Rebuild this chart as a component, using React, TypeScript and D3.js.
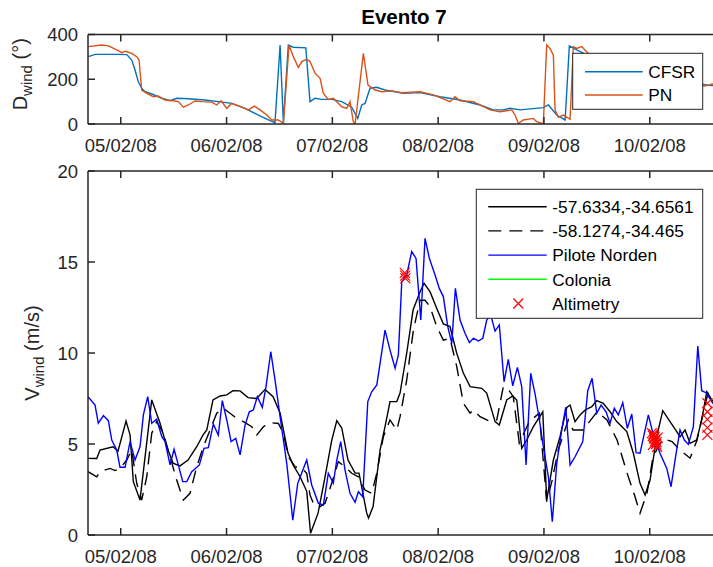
import React from "react";
import * as d3 from "d3";

// ---- data (day offsets from 05/02/08 00:00 UTC) ----
const cfsrDir: [number, number][] = [
  [-0.306, 301], [-0.243, 311], [-0.023, 311], [0.057, 310], [0.104, 286], [0.135, 241], [0.166, 189],
  [0.198, 160], [0.23, 144], [0.293, 134], [0.388, 115], [0.466, 104], [0.529, 115], [0.639, 113],
  [0.797, 107], [0.922, 100], [1.049, 92], [1.175, 70], [1.301, 40], [1.411, 15], [1.458, 6],
  [1.506, 353], [1.537, 6], [1.584, 353], [1.631, 343], [1.749, 340], [1.789, 100], [1.836, 115],
  [1.9, 110], [1.994, 110], [2.089, 100], [2.183, 75], [2.24, 25], [2.278, 85], [2.309, 92],
  [2.356, 160], [2.42, 164], [2.498, 152], [2.593, 144], [2.671, 137], [2.829, 140], [3.018, 122],
  [3.207, 107], [3.396, 85], [3.522, 63], [3.616, 63], [3.679, 70], [3.775, 63], [3.994, 73],
  [4.042, 85], [4.121, 40], [4.2, 18], [4.24, 349], [4.31, 331], [4.37, 317], [4.53, 250],
  [4.814, 200], [5.098, 185], [5.381, 180], [5.507, 177], [5.554, 173], [5.627, 172],
];
const pnDir: [number, number][] = [
  [-0.306, 346], [-0.18, 353], [-0.117, 349], [-0.023, 328], [0.009, 319], [0.041, 325], [0.104, 316],
  [0.151, 301], [0.173, 286], [0.198, 152], [0.246, 137], [0.308, 122], [0.355, 125], [0.419, 107],
  [0.497, 104], [0.544, 100], [0.592, 75], [0.639, 85], [0.702, 103], [0.766, 100], [0.86, 98],
  [0.907, 85], [0.948, 104], [1.002, 70], [1.049, 92], [1.144, 75], [1.206, 63], [1.263, 80],
  [1.317, 63], [1.38, 40], [1.427, 18], [1.49, 18], [1.537, 3], [1.591, 353], [1.631, 301],
  [1.679, 253], [1.711, 279], [1.758, 289], [1.789, 279], [1.836, 227], [1.884, 204], [1.915, 137],
  [1.962, 110], [2.009, 115], [2.089, 77], [2.136, 70], [2.167, 100], [2.198, 10], [2.215, 0],
  [2.293, 316], [2.337, 174], [2.404, 152], [2.467, 144], [2.561, 148], [2.656, 140], [2.829, 144],
  [2.955, 130], [3.112, 100], [3.159, 122], [3.207, 104], [3.333, 100], [3.491, 63], [3.585, 55],
  [3.696, 63], [3.727, 40], [3.758, 3], [3.805, 18], [3.9, 25], [3.932, 10], [3.994, 0],
  [4.026, 353], [4.057, 338], [4.089, 308], [4.105, 63], [4.136, 30], [4.183, 40], [4.247, 21],
  [4.278, 346], [4.31, 338], [4.357, 346], [4.53, 260], [4.814, 190], [5.098, 175], [5.381, 170],
  [5.507, 170], [5.554, 173], [5.586, 179], [5.627, 175],
];
const speedA: [number, number][] = [
  [-0.309, 4.21], [-0.227, 4.2], [-0.196, 4.67], [-0.073, 4.85], [-0.026, 4.6], [0.05, 6.26], [0.088, 5.5],
  [0.119, 2.93], [0.182, 1.92], [0.293, 7.42], [0.371, 6.15], [0.435, 4.85], [0.494, 3.95], [0.56, 3.8],
  [0.636, 4.12], [0.718, 4.85], [0.778, 5.5], [0.813, 5.77], [0.872, 7.42], [0.939, 7.64], [1.002, 7.7],
  [1.061, 7.93], [1.128, 7.92], [1.203, 7.55], [1.285, 7.5], [1.364, 8.0], [1.44, 7.6], [1.506, 6.7],
  [1.581, 4.5], [1.629, 3.85], [1.695, 3.2], [1.758, 2.4], [1.794, 0.1], [1.865, 1.2], [1.931, 3.2],
  [1.994, 5.2], [2.042, 6.28], [2.089, 5.88], [2.148, 4.12], [2.215, 3.4], [2.252, 3.4], [2.325, 1.2],
  [2.342, 0.93], [2.385, 1.56], [2.451, 4.67], [2.498, 5.95], [2.545, 7.33], [2.609, 7.33], [2.64, 7.8],
  [2.703, 10.0], [2.763, 12.36], [2.829, 13.37], [2.867, 13.83], [2.923, 13.37], [2.987, 12.45],
  [3.049, 11.6], [3.112, 11.45], [3.176, 9.98], [3.238, 8.9], [3.302, 8.15], [3.412, 8.06], [3.459, 7.8],
  [3.538, 6.23], [3.578, 6.04], [3.648, 7.42], [3.705, 7.64], [3.743, 7.42], [3.79, 4.76], [3.837, 5.22],
  [3.9, 5.95], [3.989, 6.77], [4.026, 1.92], [4.089, 4.12], [4.152, 5.4], [4.216, 7.01], [4.247, 7.14],
  [4.294, 6.23], [4.341, 6.6], [4.389, 6.87], [4.452, 7.05], [4.499, 7.38], [4.561, 7.24], [4.625, 6.77],
  [4.688, 6.23], [4.783, 5.68], [4.845, 4.49], [4.908, 2.84], [4.956, 2.2], [5.003, 3.02], [5.066, 5.4],
  [5.123, 6.83], [5.192, 6.23], [5.255, 5.68], [5.286, 5.4], [5.334, 5.77], [5.381, 5.04], [5.444, 5.22],
  [5.491, 6.32], [5.539, 7.87], [5.586, 7.42], [5.664, 7.0],
];
const speedB: [number, number][] = [
  [-0.309, 3.48], [-0.227, 3.2], [-0.196, 3.48], [-0.101, 3.66], [-0.054, 3.54], [-0.007, 3.66], [0.057, 4.12],
  [0.104, 4.67], [0.151, 2.84], [0.198, 1.92], [0.246, 3.2], [0.293, 5.59], [0.34, 6.23], [0.403, 5.59],
  [0.466, 4.3], [0.529, 3.02], [0.592, 1.92], [0.655, 2.29], [0.718, 3.75], [0.781, 4.85], [0.844, 5.77],
  [0.907, 6.69], [0.97, 6.96], [1.033, 6.69], [1.096, 6.41], [1.159, 6.23], [1.238, 5.95], [1.285, 5.49],
  [1.348, 5.95], [1.411, 6.17], [1.49, 6.13], [1.537, 5.59], [1.584, 4.3], [1.647, 3.75], [1.711, 3.66],
  [1.758, 3.39], [1.789, 2.2], [1.82, 1.74], [1.884, 1.56], [1.931, 1.74], [1.994, 2.84], [2.057, 4.03],
  [2.12, 3.75], [2.183, 3.39], [2.246, 3.2], [2.309, 2.47], [2.372, 2.29], [2.42, 3.39], [2.482, 5.4],
  [2.545, 6.32], [2.609, 5.77], [2.64, 6.5], [2.703, 8.52], [2.766, 11.26], [2.829, 12.9], [2.876, 12.9],
  [2.923, 12.54], [2.987, 11.45], [3.049, 10.71], [3.112, 10.8], [3.176, 9.25], [3.238, 7.24], [3.302, 6.69],
  [3.333, 6.87], [3.396, 6.5], [3.491, 6.23], [3.554, 6.32], [3.616, 8.15], [3.663, 8.0], [3.71, 7.6],
  [3.767, 5.05], [3.861, 6.23], [3.956, 6.69], [4.026, 1.83], [4.077, 3.0], [4.135, 4.67], [4.23, 6.32],
  [4.275, 5.77], [4.37, 5.77], [4.502, 6.77], [4.596, 6.32], [4.691, 5.22], [4.786, 3.4], [4.861, 2.1],
  [4.908, 1.2], [4.974, 2.3], [5.031, 4.3], [5.126, 5.3], [5.211, 5.13], [5.286, 4.67], [5.381, 4.22],
  [5.447, 5.22], [5.504, 6.69], [5.551, 7.8], [5.598, 7.4], [5.664, 7.1],
];
const piloteNorden: [number, number][] = [
  [-0.309, 7.6], [-0.243, 7.14], [-0.212, 6.14], [-0.164, 6.56], [-0.117, 6.28], [-0.085, 5.22],
  [-0.038, 4.67], [-0.007, 3.72], [0.041, 3.72], [0.088, 5.13], [0.135, 4.12], [0.182, 4.85], [0.214, 6.6],
  [0.255, 7.6], [0.293, 6.14], [0.34, 6.36], [0.388, 5.4], [0.419, 5.13], [0.466, 3.85], [0.504, 4.71],
  [0.544, 3.85], [0.586, 2.93], [0.624, 2.93], [0.671, 3.48], [0.743, 3.85], [0.787, 4.76], [0.828, 4.8],
  [0.875, 6.1], [0.922, 5.49], [0.96, 7.38], [1.002, 6.32], [1.043, 5.13], [1.087, 5.31], [1.128, 4.4],
  [1.175, 6.04], [1.215, 6.77], [1.253, 6.87], [1.291, 7.6], [1.338, 7.01], [1.373, 8.15], [1.418, 10.07],
  [1.458, 8.52], [1.506, 6.5], [1.569, 3.94], [1.626, 0.82], [1.673, 2.84], [1.711, 3.42], [1.758, 4.12],
  [1.805, 2.75], [1.868, 1.74], [1.915, 1.65], [1.962, 3.39], [2.009, 2.84], [2.042, 4.12], [2.079, 5.13],
  [2.12, 3.57], [2.167, 2.29], [2.215, 1.8], [2.246, 2.38], [2.287, 2.1], [2.335, 7.33], [2.372, 7.87],
  [2.42, 8.24], [2.451, 9.43], [2.498, 11.26], [2.545, 10.16], [2.593, 9.16], [2.624, 9.89], [2.656, 13.92],
  [2.703, 14.29], [2.75, 15.57], [2.791, 15.2], [2.836, 11.81], [2.876, 16.3], [2.917, 15.2], [2.971, 14.29],
  [3.011, 13.55], [3.049, 13.1], [3.091, 11.45], [3.129, 10.53], [3.163, 13.55], [3.207, 11.81],
  [3.254, 11.08], [3.295, 10.57], [3.333, 10.81], [3.38, 10.66], [3.422, 10.81], [3.459, 11.81],
  [3.497, 12.09], [3.538, 11.2], [3.578, 11.54], [3.623, 8.42], [3.663, 9.65], [3.705, 8.19], [3.749, 9.21],
  [3.79, 8.15], [3.831, 3.85], [3.875, 8.88], [3.916, 7.75], [3.957, 6.32], [3.994, 4.85], [4.042, 3.2],
  [4.079, 0.73], [4.121, 3.94], [4.168, 5.77], [4.206, 7.01], [4.247, 3.85], [4.294, 4.3], [4.367, 5.13],
  [4.414, 7.93], [4.455, 8.61], [4.499, 6.69], [4.54, 7.14], [4.587, 6.77], [4.625, 6.14], [4.665, 6.96],
  [4.703, 6.6], [4.745, 7.27], [4.788, 5.86], [4.83, 6.65], [4.871, 4.52], [4.908, 4.49], [4.987, 6.6],
  [5.034, 5.49], [5.097, 4.49], [5.161, 3.66], [5.201, 2.65], [5.249, 4.49], [5.286, 5.77], [5.327, 5.22],
  [5.365, 4.98], [5.412, 5.95], [5.454, 10.38], [5.491, 7.93], [5.532, 7.82], [5.586, 7.33], [5.627, 7.0],
];
const colonia: [number, number][] = [];
const altimetry: [number, number][] = [
  [2.685, 14.4], [2.69, 14.1], [2.688, 14.25],
  [5.02, 5.6], [5.03, 5.45], [5.04, 5.3], [5.05, 5.15], [5.06, 5.0], [5.07, 4.85], [5.035, 5.55],
  [5.045, 5.4], [5.055, 5.25], [5.065, 5.1], [5.075, 5.35], [5.03, 4.95],
  [5.545, 7.24], [5.545, 6.77], [5.545, 6.35], [5.545, 5.9], [5.545, 5.5],
];
const dirTicks = [0, 200, 400];
const speedTicks = [0, 5, 10, 15, 20];
const speedLegend = ["-57.6334,-34.6561", "-58.1274,-34.465", "Pilote Norden", "Colonia", "Altimetry"];
const dirLegend = ["CFSR", "PN"];

const BASE = Date.UTC(2008, 1, 5);
const toDate = (d: number) => new Date(BASE + d * 864e5);

const W = 713, H = 567;
const L = 88, R = 720;
const TOP1 = 34.5, BOT1 = 124;
const TOP2 = 171, BOT2 = 535;
const AX = "#262626";
const FONT = "'Liberation Sans', Arial, Helvetica, sans-serif";
const DASH = "13,8";

export default function App() {
  const x = d3.scaleUtc().domain([toDate(-0.3095), toDate(5.664)]).range([L, R]);
  const y1 = d3.scaleLinear().domain([0, 400]).range([BOT1, TOP1]);
  const y2 = d3.scaleLinear().domain([0, 20]).range([BOT2, TOP2]);
  const xTicks = x.ticks(d3.utcDay.every(1)!).filter((t) => +t > +x.domain()[0]);
  const fmt = d3.utcFormat("%d/%m/%y");
  const line1 = d3.line<[number, number]>().x((d) => x(toDate(d[0]))).y((d) => y1(d[1]));
  const line2 = d3.line<[number, number]>().x((d) => x(toDate(d[0]))).y((d) => y2(d[1]));
  const cross = "M-5,-5L5,5M-5,5L5,-5";

  const axesBox = (top: number, bot: number, yScale: any, yT: number[], labelY: number) => (
    <g>
      <line x1={L} x2={R} y1={top} y2={top} stroke={AX} strokeWidth={1.5} />
      <line x1={L} x2={R} y1={bot} y2={bot} stroke={AX} strokeWidth={1.5} />
      <line x1={L} x2={L} y1={top} y2={bot} stroke={AX} strokeWidth={1.5} />
      {xTicks.map((t, i) => (
        <g key={i}>
          <line x1={x(t)} x2={x(t)} y1={bot} y2={bot - 7} stroke={AX} strokeWidth={1.5} />
          <line x1={x(t)} x2={x(t)} y1={top} y2={top + 7} stroke={AX} strokeWidth={1.5} />
          <text x={x(t)} y={labelY} textAnchor="middle" fontSize={18.5} fill={AX} fontFamily={FONT}>
            {fmt(t)}
          </text>
        </g>
      ))}
      {yT.map((v, i) => (
        <g key={i}>
          <line x1={L} x2={L + 7} y1={yScale(v)} y2={yScale(v)} stroke={AX} strokeWidth={1.5} />
          <text x={78} y={yScale(v)} dy="0.36em" textAnchor="end" fontSize={18.5} fill={AX} fontFamily={FONT}>
            {v}
          </text>
        </g>
      ))}
    </g>
  );

  return (
    <svg width={W} height={H} style={{ position: "absolute", left: 0, top: 0, background: "#fff" }}>
      <defs>
        <clipPath id="c1"><rect x={L} y={TOP1} width={R - L} height={BOT1 - TOP1} /></clipPath>
        <clipPath id="c2"><rect x={L} y={TOP2} width={R - L} height={BOT2 - TOP2} /></clipPath>
      </defs>
      <rect width={W} height={H} fill="#fff" />
      <text x={(L + R) / 2} y={24} textAnchor="middle" fontSize={20.5} fontWeight="bold" fill="#000" fontFamily={FONT}>
        Evento 7
      </text>

      {/* top panel */}
      <g clipPath="url(#c1)">
        <path d={line1(cfsrDir)!} fill="none" stroke="#0072BD" strokeWidth={1.4} />
        <path d={line1(pnDir)!} fill="none" stroke="#D95319" strokeWidth={1.4} />
      </g>
      {axesBox(TOP1, BOT1, y1, dirTicks, 151.5)}
      <text transform={`translate(27,${(TOP1 + BOT1) / 2 - 5}) rotate(-90)`} textAnchor="middle" fontSize={20} fill={AX} fontFamily={FONT}>
        D<tspan fontSize={15} dy={5}>wind</tspan><tspan dy={-5}> (°)</tspan>
      </text>
      <g>
        <rect x={572.7} y={53.3} width={130} height={56} fill="#fff" stroke={AX} strokeWidth={1} />
        {dirLegend.map((n, i) => (
          <g key={n}>
            <line x1={585} x2={642.7} y1={71.7 + i * 23.3} y2={71.7 + i * 23.3} stroke={i === 0 ? "#0072BD" : "#D95319"} strokeWidth={1.4} />
            <text x={648.3} y={71.7 + i * 23.3} dy="0.36em" fontSize={17.3} fill="#000" fontFamily={FONT}>{n}</text>
          </g>
        ))}
      </g>

      {/* bottom panel */}
      <g clipPath="url(#c2)">
        <path d={line2(speedA)!} fill="none" stroke="#000" strokeWidth={1.4} />
        <path d={line2(speedB)!} fill="none" stroke="#000" strokeWidth={1.4} strokeDasharray={DASH} />
        <path d={line2(piloteNorden)!} fill="none" stroke="#0000FF" strokeWidth={1.4} />
        {colonia.length > 0 && <path d={line2(colonia)!} fill="none" stroke="#00FF00" strokeWidth={1.4} />}
        {altimetry.map((d, i) => (
          <path key={i} d={cross} transform={`translate(${x(toDate(d[0]))},${y2(d[1])})`} stroke="#FF0000" strokeWidth={1.2} fill="none" />
        ))}
      </g>
      {axesBox(TOP2, BOT2, y2, speedTicks, 563)}
      <text transform={`translate(38.5,${(TOP2 + BOT2) / 2}) rotate(-90)`} textAnchor="middle" fontSize={20} fill={AX} fontFamily={FONT}>
        V<tspan fontSize={15} dy={5}>wind</tspan><tspan dy={-5}> (m/s)</tspan>
      </text>
      <g>
        <rect x={476.3} y={189.3} width={226.4} height={129} fill="#fff" stroke={AX} strokeWidth={1} />
        {speedLegend.map((n, i) => {
          const yy = 206.7 + i * 24.2;
          return (
            <g key={n}>
              {i === 4 ? (
                <path d={cross} transform={`translate(518.3,${yy})`} stroke="#FF0000" strokeWidth={1.2} fill="none" />
              ) : (
                <line x1={488.3} x2={546.7} y1={yy} y2={yy}
                  stroke={["#000", "#000", "#0000FF", "#00FF00"][i]} strokeWidth={1.4}
                  strokeDasharray={i === 1 ? DASH : undefined} />
              )}
              <text x={552.3} y={yy} dy="0.36em" fontSize={17.3} fill="#000" fontFamily={FONT}>{n}</text>
            </g>
          );
        })}
      </g>
    </svg>
  );
}
